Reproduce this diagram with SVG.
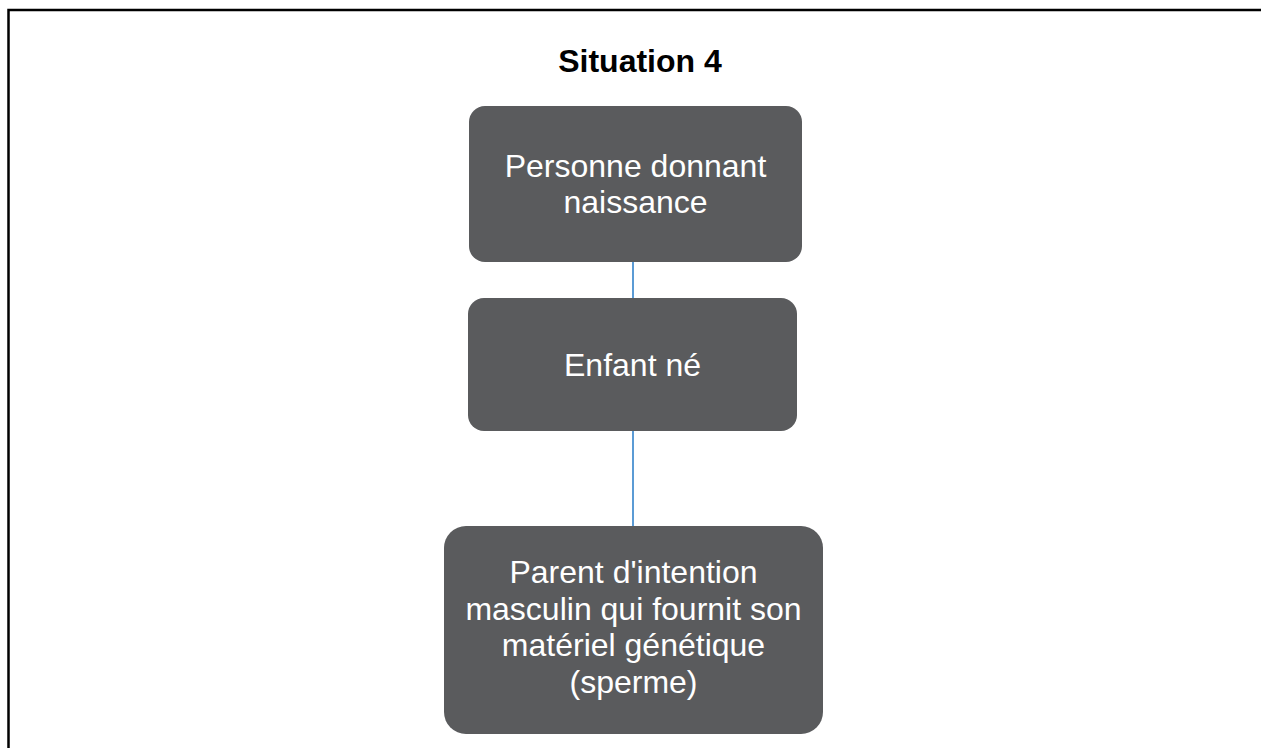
<svg xmlns="http://www.w3.org/2000/svg" width="1261" height="748" viewBox="0 0 1261 748">
  <style>
    .node { fill: #5a5b5d; }
    .label { fill: #ffffff; font-family: "Liberation Sans", Arial, sans-serif; font-size: 32px; text-anchor: middle; }
    .title { fill: #000000; font-family: "Liberation Sans", Arial, sans-serif; font-size: 32px; font-weight: bold; text-anchor: middle; }
    .conn { stroke: #5b9bd5; stroke-width: 2; fill: none; }
  </style>
  <rect x="0" y="0" width="1261" height="748" fill="#ffffff"/>
  <rect x="8.5" y="10" width="1300" height="800" fill="none" stroke="#000000" stroke-width="2.5"/>
  <text class="title" x="640" y="72">Situation 4</text>
  <g id="connectors">
    <line class="conn" x1="633" y1="261" x2="633" y2="299"/>
    <line class="conn" x1="633" y1="431" x2="633" y2="527"/>
  </g>
  <g id="node-personne">
    <rect class="node" x="469" y="106" width="333" height="156" rx="16"/>
    <text class="label" x="635.5" y="177">Personne donnant</text>
    <text class="label" x="635.5" y="213">naissance</text>
  </g>
  <g id="node-enfant">
    <rect class="node" x="468" y="298" width="329" height="133" rx="16"/>
    <text class="label" x="632.5" y="376">Enfant né</text>
  </g>
  <g id="node-parent">
    <rect class="node" x="444" y="526" width="379" height="208" rx="22"/>
    <text class="label" x="633.5" y="583">Parent d'intention</text>
    <text class="label" x="633.5" y="619.5">masculin qui fournit son</text>
    <text class="label" x="633.5" y="656">matériel génétique</text>
    <text class="label" x="633.5" y="692.5">(sperme)</text>
  </g>
</svg>
